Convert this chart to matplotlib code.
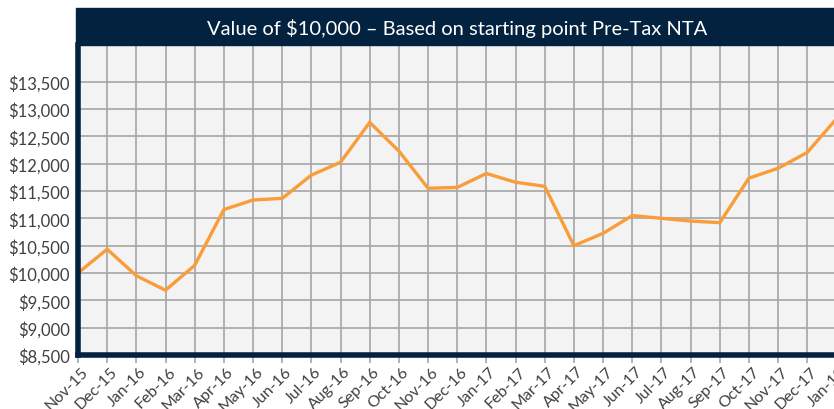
import matplotlib
matplotlib.use("Agg")
import matplotlib.pyplot as plt
from matplotlib.patches import Rectangle
from matplotlib.ticker import FuncFormatter
from matplotlib.transforms import ScaledTranslation

months = ["Nov-15", "Dec-15", "Jan-16", "Feb-16", "Mar-16", "Apr-16", "May-16",
          "Jun-16", "Jul-16", "Aug-16", "Sep-16", "Oct-16", "Nov-16", "Dec-16",
          "Jan-17", "Feb-17", "Mar-17", "Apr-17", "May-17", "Jun-17", "Jul-17",
          "Aug-17", "Sep-17", "Oct-17", "Nov-17", "Dec-17", "Jan-18"]
values = [10000, 10435, 9950, 9685, 10140, 11160, 11335, 11365, 11790, 12025,
          12755, 12230, 11550, 11565, 11820, 11660, 11585, 10500, 10725, 11050,
          11000, 10950, 10920, 11735, 11915, 12205, 12820]
yticks = [8500, 9000, 9500, 10000, 10500, 11000, 11500, 12000, 12500, 13000, 13500]

navy = "#03223f"
plt.rcParams["font.family"] = ["Lato", "DejaVu Sans"]

fig = plt.figure(figsize=(8.34, 4.10), dpi=100)
ax = fig.add_axes([78 / 834, 54 / 410, 773 / 834, 310 / 410])
ax.set_facecolor("#f3f3f3")

x = list(range(len(months)))
ax.plot(x, values, color="#f99d3a", lw=2.4, solid_joinstyle="miter", zorder=3)

ax.set_xlim(0, 26.5)
ax.set_ylim(8500, 14170)
ax.set_xticks(x)
ax.set_xticklabels([])
# month labels, top corner just right of each tick, below the tick marks
off = ax.get_xaxis_transform() + ScaledTranslation(3 / 100, -9 / 100, fig.dpi_scale_trans)
for i, m in zip(x, months):
    ax.text(i, 0, m, transform=off, rotation=45, ha="right", va="top",
            rotation_mode="anchor", fontsize=11.5, color="#404040", clip_on=False)

ax.set_yticks(yticks)
ax.yaxis.set_major_formatter(FuncFormatter(lambda v, p: "${:,.0f}".format(v)))
ax.tick_params(axis="y", length=0, pad=6, labelsize=12, labelcolor="#404040")
ax.tick_params(axis="x", length=6, width=1.2, color="#a6a6a6", pad=2)
ax.grid(True, color="#a6a6a6", lw=1.2)
ax.set_axisbelow(True)

for s in ["top", "right"]:
    ax.spines[s].set_visible(False)
for s in ["left", "bottom"]:
    ax.spines[s].set_color(navy)
    ax.spines[s].set_linewidth(4)
    ax.spines[s].set_zorder(4)

fig.patches.append(Rectangle((76 / 834, 364 / 410), 1, 37 / 410,
                             transform=fig.transFigure, color=navy, zorder=5))
fig.text(457 / 834, 382 / 410, "Value of $10,000 \u2013 Based on starting point Pre-Tax NTA",
         color="white", fontsize=14.5, ha="center", va="center", zorder=6)

fig.savefig("out.png", dpi=100)
